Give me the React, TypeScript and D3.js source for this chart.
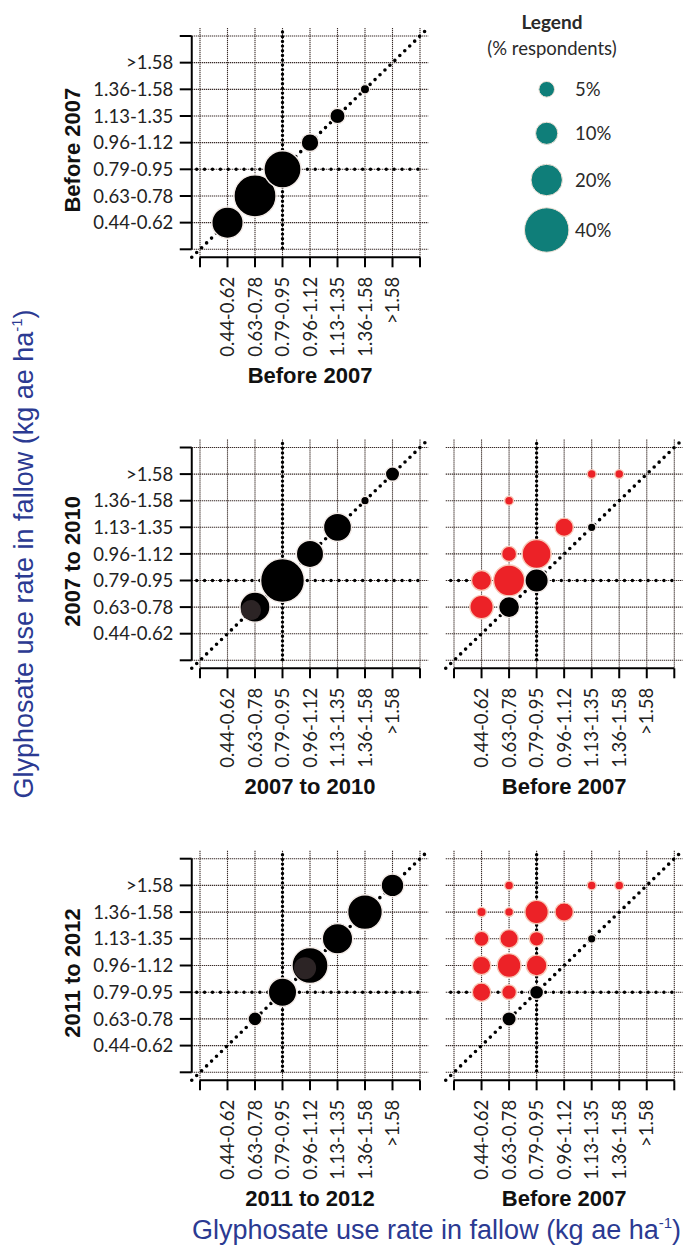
import React from "react";
import * as d3 from "d3";

// ---------- DATA ----------
const CATS = ["0.44-0.62", "0.63-0.78", "0.79-0.95", "0.96-1.12", "1.13-1.35", "1.36-1.58", ">1.58"];

// [x category index, y category index, % respondents]
const before2007Self: [number, number, number][] = [
  [0, 0, 20], [1, 1, 36], [2, 2, 28], [3, 3, 6.4], [4, 4, 4.8], [5, 5, 1.8],
];
const p2007to2010Self: [number, number, number][] = [
  [1, 1, 18.4], [2, 2, 39], [3, 3, 15.2], [4, 4, 16], [5, 5, 1.5], [6, 6, 4.2],
];
const p2007to2010VsBefore: [number, number, number][] = [
  [4, 6, 1.6], [5, 6, 1.6], [1, 5, 1.6], [3, 4, 6.9], [4, 4, 1.5], [1, 3, 4.6],
  [2, 3, 17], [0, 2, 8.2], [1, 2, 19.6], [2, 2, 11.1], [0, 1, 11.1], [1, 1, 9],
];
const p2011to2012Self: [number, number, number][] = [
  [1, 1, 4], [2, 2, 16.4], [3, 3, 26.4], [4, 4, 18.8], [5, 5, 24.5], [6, 6, 10.5],
];
const p2011to2012VsBefore: [number, number, number][] = [
  [1, 6, 1.6], [4, 6, 1.6], [5, 6, 1.6], [0, 5, 1.8], [1, 5, 1.6], [2, 5, 11.1],
  [3, 5, 6.9], [4, 4, 1.5], [0, 4, 4.6], [1, 4, 6.9], [2, 4, 4.4], [0, 3, 6.9],
  [1, 3, 11.4], [2, 3, 8.7], [0, 2, 6.9], [1, 2, 4.4], [2, 2, 4], [1, 1, 4.2],
];
// faint overlapping shade inside two bubbles
const shade2007to2010: [number, number, number][] = [[0.855, 0.89, 8.2]];
const shade2011to2012: [number, number, number][] = [[2.82, 2.9, 9.9]];

const LEGEND_VALUES = [5, 10, 20, 40];
const REF_CAT = 2; // 0.79-0.95 reference lines

// ---------- STYLE / LAYOUT ----------
const W = 686, H = 1257;
const TICK_FONT = "Lato, 'Open Sans', sans-serif";
const TITLE_FONT = "'Liberation Sans', Arial, sans-serif";
const RED = "#ec2227";
const BLACK = "#000";
const TEAL = "#0f7e79";
const BLUE = "#2b3a92";
const GRID = "#3a2c29";

const COLS = [[200, 420], [454, 674.3]];
const ROWS = [[249.3, 36], [660.3, 447.5], [1072.3, 858.7]];

const rScale = d3.scaleSqrt().domain([0, 40]).range([0, 22.2]);

type PanelProps = {
  col: number; row: number;
  data: [number, number, number][];
  shade?: [number, number, number][];
  xTitle: string; yTitle?: string;
};

function Panel({ col, row, data, shade, xTitle, yTitle }: PanelProps) {
  const x = d3.scaleLinear().domain([0, 8]).range(COLS[col]);
  const y = d3.scaleLinear().domain([0, 8]).range(ROWS[row]);
  const lo = -0.3, hi = 8.3;
  const gridIdx = d3.range(0, 9);
  const sorted = [...data].sort((a, b) => b[2] - a[2]);
  const axX = x(lo), axY = y(lo);
  const diag = d3.line<number>().x((d) => x(d)).y((d) => y(d));
  return (
    <g>
      {/* grid */}
      {gridIdx.map((i) => (
        <line key={"v" + i} x1={x(i)} x2={x(i)} y1={y(hi)} y2={axY}
          stroke={GRID} strokeWidth={1.1} strokeDasharray="1.3 0.7" />
      ))}
      {gridIdx.map((i) => (
        <line key={"h" + i} x1={axX} x2={x(hi)} y1={y(i)} y2={y(i)}
          stroke={GRID} strokeWidth={1.1} strokeDasharray="1.3 0.7" />
      ))}
      {/* reference dotted lines */}
      <path d={diag([lo, hi]) || ""} stroke={BLACK} strokeWidth={3.6} strokeLinecap="round"
        strokeDasharray="0 6.9" fill="none" />
      <line x1={x(REF_CAT + 1)} x2={x(REF_CAT + 1)} y1={y(8.15)} y2={y(-0.1)}
        stroke={BLACK} strokeWidth={3.4} strokeLinecap="round" strokeDasharray="0 4.7" />
      <line x1={x(-0.12)} x2={x(8.18)} y1={y(REF_CAT + 1)} y2={y(REF_CAT + 1)}
        stroke={BLACK} strokeWidth={3.4} strokeLinecap="round" strokeDasharray="0 7.9" />
      {/* bubbles */}
      {sorted.map(([cx, cy, p], i) => {
        const same = cx === cy;
        return (
          <circle key={"b" + i} cx={x(cx + 1)} cy={y(cy + 1)} r={rScale(p)}
            fill={same ? BLACK : RED} stroke={same ? "#f4ece8" : "#f8c9b8"} strokeWidth={1.4} />
        );
      })}
      {(shade || []).map(([cx, cy, p], i) => (
        <circle key={"s" + i} cx={x(cx + 1)} cy={y(cy + 1)} r={rScale(p)} fill="#2c2425" />
      ))}
      {/* bottom axis */}
      <line x1={x(0)} x2={x(8)} y1={axY} y2={axY} stroke={BLACK} strokeWidth={2} />
      {gridIdx.map((i) => (
        <line key={"bt" + i} x1={x(i)} x2={x(i)} y1={axY} y2={axY + 10} stroke={BLACK} strokeWidth={2} />
      ))}
      {CATS.map((c, i) => (
        <text key={"bl" + i} transform={`translate(${x(i + 1)},${axY + 19.4}) rotate(-90)`}
          textAnchor="end" dy="0.36em" fontFamily={TICK_FONT} fontSize={18.5} fill="#222">{c}</text>
      ))}
      <text x={(COLS[col][0] + COLS[col][1]) / 2} y={y(0) + 133.4} textAnchor="middle"
        fontFamily={TITLE_FONT} fontWeight="bold" fontSize={22} fill="#111">{xTitle}</text>
      {/* left axis */}
      {yTitle && (
        <g>
          <line x1={axX} x2={axX} y1={y(8)} y2={y(0)} stroke={BLACK} strokeWidth={2} />
          {gridIdx.map((i) => (
            <line key={"lt" + i} x1={axX - 12} x2={axX} y1={y(i)} y2={y(i)} stroke={BLACK} strokeWidth={2} />
          ))}
          {CATS.map((c, i) => (
            <text key={"ll" + i} x={axX - 18.4} y={y(i + 1)} dy="0.36em" textAnchor="end"
              fontFamily={TICK_FONT} fontSize={18.5} fill="#222">{c}</text>
          ))}
          <text transform={`translate(80,${(ROWS[row][0] + ROWS[row][1]) / 2 + 7.5}) rotate(-90)`}
            textAnchor="middle" fontFamily={TITLE_FONT} fontWeight="bold" fontSize={22} fill="#111">{yTitle}</text>
        </g>
      )}
    </g>
  );
}

function Legend() {
  const cx = 546.7;
  const yPos = d3.scaleOrdinal<number, number>().domain(LEGEND_VALUES).range([89.3, 133.3, 180, 230]);
  return (
    <g>
      <text x={552} y={28.5} textAnchor="middle" fontFamily={TICK_FONT} fontWeight="bold"
        fontSize={19} fill="#2a2a2a">Legend</text>
      <text x={552} y={55} textAnchor="middle" fontFamily={TICK_FONT} fontSize={18.5} fill="#2a2a2a">(% respondents)</text>
      {LEGEND_VALUES.map((v) => (
        <g key={v}>
          <circle cx={cx} cy={yPos(v)} r={rScale(v)} fill={TEAL} stroke="#f3e3d8" strokeWidth={1} />
          <text x={575} y={yPos(v)} dy="0.36em" fontFamily={TICK_FONT} fontSize={18.5}
            fill="#2a2a2a">{v}%</text>
        </g>
      ))}
    </g>
  );
}

function BlueTitle({ transform, x, y }: { transform?: string; x?: number; y?: number }) {
  return (
    <text transform={transform} x={x} y={y} textAnchor="middle" fontFamily={TITLE_FONT}
      fontSize={27} fill={BLUE}>
      Glyphosate use rate in fallow (kg ae ha<tspan fontSize={15} dy={-11}>-1</tspan><tspan dy={11}>)</tspan>
    </text>
  );
}

export default function App() {
  return (
    <svg width={W} height={H} viewBox={`0 0 ${W} ${H}`}
      style={{ position: "absolute", left: 0, top: 0, background: "#fff" }}>
      <rect width={W} height={H} fill="#fff" />
      <Panel col={0} row={0} data={before2007Self} xTitle="Before 2007" yTitle="Before 2007" />
      <Legend />
      <Panel col={0} row={1} data={p2007to2010Self} shade={shade2007to2010} xTitle="2007 to 2010" yTitle="2007 to 2010" />
      <Panel col={1} row={1} data={p2007to2010VsBefore} xTitle="Before 2007" />
      <Panel col={0} row={2} data={p2011to2012Self} shade={shade2011to2012} xTitle="2011 to 2012" yTitle="2011 to 2012" />
      <Panel col={1} row={2} data={p2011to2012VsBefore} xTitle="Before 2007" />
      <BlueTitle transform="translate(33,554) rotate(-90)" />
      <BlueTitle x={436.5} y={1239} />
    </svg>
  );
}
